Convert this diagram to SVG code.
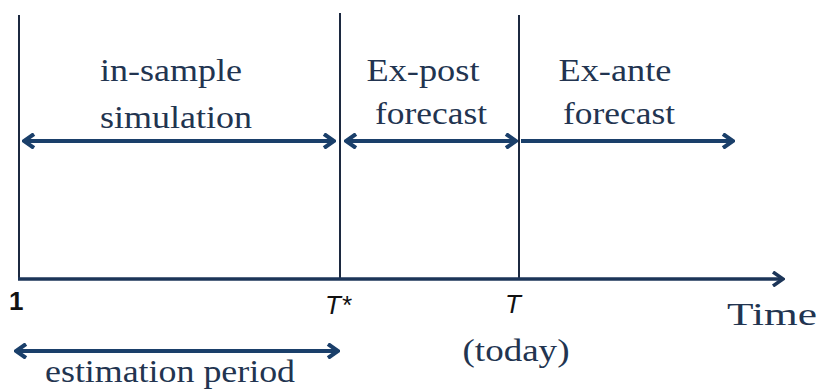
<svg xmlns="http://www.w3.org/2000/svg" width="821" height="389" viewBox="0 0 821 389">
<style>
.v{stroke:#1c2940;stroke-width:2;fill:none}
.a{stroke:#1a3f6a;stroke-width:4;fill:none}
.ax{stroke:#1c3558;stroke-width:3.5;fill:none}
.t{font-family:"Liberation Serif",serif;font-size:31px;fill:#223450;text-anchor:middle}
.s{font-family:"Liberation Sans",sans-serif;font-size:26px;fill:#111}
</style>
<defs>
<marker id="head" viewBox="0 0 14 16" refX="12" refY="8" markerWidth="14" markerHeight="16" markerUnits="userSpaceOnUse" orient="auto-start-reverse">
<polyline points="2,1 12,8 2,15" fill="none" stroke="#1a3f6a" stroke-width="4" stroke-linejoin="miter"/>
</marker>
<marker id="headAx" viewBox="0 0 14 16" refX="12" refY="8" markerWidth="14" markerHeight="16" markerUnits="userSpaceOnUse" orient="auto">
<polyline points="2,1 12,8 2,15" fill="none" stroke="#1c3558" stroke-width="3.5"/>
</marker>
</defs>
<rect width="821" height="389" fill="#fff"/>
<g id="connectors">
<line class="v" x1="19" y1="15" x2="19" y2="280"/>
<line class="v" x1="340" y1="13" x2="340" y2="278"/>
<line class="v" x1="519" y1="15" x2="519" y2="278"/>
<line class="ax" x1="18" y1="279" x2="783" y2="279" marker-end="url(#headAx)"/>
<line class="a" x1="24" y1="141" x2="334" y2="141" marker-start="url(#head)" marker-end="url(#head)"/>
<line class="a" x1="346" y1="141" x2="516" y2="141" marker-start="url(#head)" marker-end="url(#head)"/>
<line class="a" x1="521" y1="141" x2="733" y2="141" marker-end="url(#head)"/>
<line class="a" x1="16" y1="351" x2="338" y2="351" marker-start="url(#head)" marker-end="url(#head)"/>
</g>
<g id="in-sample"><text class="t" x="171" y="81" textLength="142" lengthAdjust="spacingAndGlyphs">in-sample</text><text class="t" x="176" y="128" textLength="152" lengthAdjust="spacingAndGlyphs">simulation</text></g>
<g id="ex-post"><text class="t" x="423" y="81" textLength="113" lengthAdjust="spacingAndGlyphs">Ex-post</text><text class="t" x="431" y="124" textLength="112" lengthAdjust="spacingAndGlyphs">forecast</text></g>
<g id="ex-ante"><text class="t" x="615" y="81" textLength="113" lengthAdjust="spacingAndGlyphs">Ex-ante</text><text class="t" x="619" y="124" textLength="112" lengthAdjust="spacingAndGlyphs">forecast</text></g>
<g id="label-1"><text class="s" x="9" y="310" font-size="21" font-weight="bold">1</text></g>
<g id="label-tstar"><text class="s" x="325" y="314" font-style="italic">T*</text></g>
<g id="label-t"><text class="s" x="505" y="313" font-style="italic">T</text></g>
<g id="label-time"><text class="t" x="772" y="325" textLength="90" lengthAdjust="spacingAndGlyphs">Time</text></g>
<g id="label-today"><text class="t" x="516" y="361" textLength="107" lengthAdjust="spacingAndGlyphs">(today)</text></g>
<g id="label-estimation"><text class="t" x="170" y="382" textLength="250" lengthAdjust="spacingAndGlyphs">estimation period</text></g>
</svg>
